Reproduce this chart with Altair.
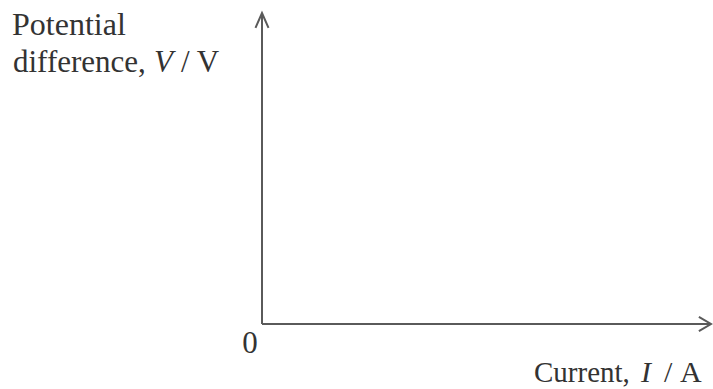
import altair as alt
import pandas as pd

# Axis extents in data units (origin at 0, arrow tips at 1)
axis_names = ["current", "potential difference"]
axis_x_start = [0.0, 0.0]
axis_y_start = [0.0, 0.0]
axis_x_end = [1.0, 0.0]
axis_y_end = [0.0, 1.0]

# Open chevron arrowheads at the end of each axis
head_axis = ["x", "x", "x", "y", "y", "y"]
head_order = [0, 1, 2, 0, 1, 2]
head_x = [1 - 0.027, 1.0, 1 - 0.027, -0.0145, 0.0, 0.0145]
head_y = [0.023, 0.0, -0.023, 1 - 0.048, 1.0, 1 - 0.048]

W, H = 449, 311
PAD_L, PAD_T = 262, 13

axes_df = pd.DataFrame({"axis": axis_names, "x": axis_x_start, "y": axis_y_start,
                        "x2": axis_x_end, "y2": axis_y_end})
heads_df = pd.DataFrame({"axis": head_axis, "o": head_order, "x": head_x, "y": head_y})

xs = alt.Scale(domain=[0, 1], nice=False, zero=False)
ys = alt.Scale(domain=[0, 1], nice=False, zero=False)

LINE = "#5a5a5a"
INK = "#333333"
FONT = "Liberation Serif"

axes = alt.Chart(axes_df).mark_rule(color=LINE, strokeWidth=2).encode(
    x=alt.X("x:Q", scale=xs, axis=None),
    y=alt.Y("y:Q", scale=ys, axis=None),
    x2="x2:Q",
    y2="y2:Q",
)

heads = alt.Chart(heads_df).mark_line(color=LINE, strokeWidth=2, strokeJoin="miter").encode(
    x=alt.X("x:Q", scale=xs, axis=None),
    y=alt.Y("y:Q", scale=ys, axis=None),
    detail="axis:N",
    order="o:Q",
)


def label(text, left, baseline, size=31, italic=False, align="left"):
    return alt.Chart(pd.DataFrame({"t": [text]})).mark_text(
        font=FONT, fontSize=size, color=INK, align=align, baseline="alphabetic",
        fontStyle="italic" if italic else "normal",
    ).encode(
        text="t:N",
        x=alt.value(left - PAD_L),
        y=alt.value(baseline - PAD_T),
    )


labels = [
    label("Potential", 12, 35, size=32),
    label("difference,", 13, 72),
    label("V", 154, 72, italic=True),
    label("/ V", 181, 72),
    label("0", 250, 353, align="center"),
    label("Current,", 534, 382, size=29),
    label("I", 641, 382, size=30, italic=True),
    label("/", 664, 382, size=30),
    label("A", 680, 382, size=30),
]

chart = alt.layer(axes, heads, *labels).properties(
    width=W,
    height=H,
    autosize=alt.AutoSizeParams(type="none"),
    padding={"left": PAD_L, "top": PAD_T, "right": 713 - PAD_L - W, "bottom": 389 - PAD_T - H},
    background="white",
).configure_view(stroke=None)

chart.save("out.html", embed_options={"renderer": "svg", "actions": False})
